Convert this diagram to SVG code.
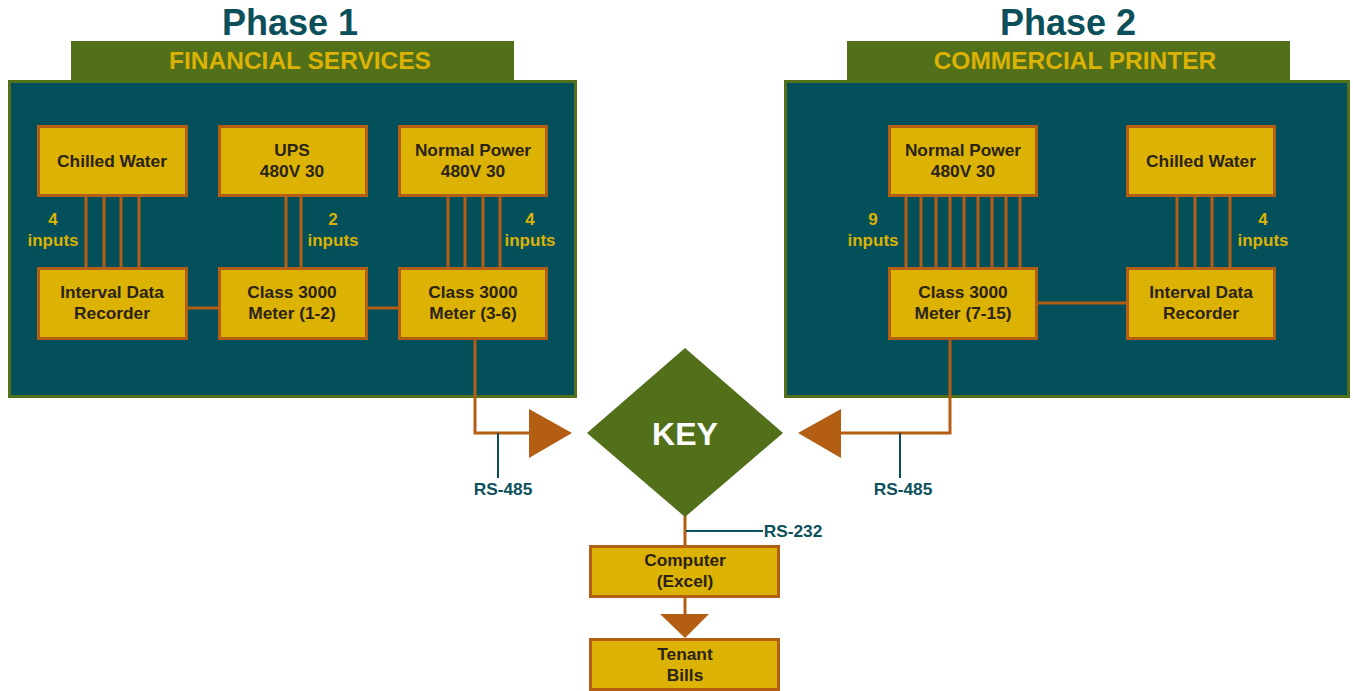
<svg xmlns="http://www.w3.org/2000/svg" width="1353" height="691" viewBox="0 0 1353 691">
<style>
.panel{fill:#034f5a;stroke:#52701a;stroke-width:3}
.tab{fill:#52701a}
.box{fill:#dcb204;stroke:#b45e14;stroke-width:3}
.w{stroke:#b45e14;stroke-width:3;fill:none}
.lead{stroke:#0b4f5b;stroke-width:2;fill:none}
.arr{fill:#b45e14}
text{font-family:"Liberation Sans",Arial,sans-serif;font-weight:bold;text-anchor:middle}
.bt{font-size:17.3px;fill:#2a2316}
.inp{font-size:17px;fill:#dcb204}
.title{font-size:36px;fill:#0b4f5b}
.hdr{font-size:24.5px;fill:#dcb204}
.rs{font-size:17.3px;fill:#0b4f5b}
.key{font-size:32px;fill:#ffffff}
</style>
<rect width="1353" height="691" fill="#ffffff"/>

<g id="phase1-panel">
<text class="title" x="290" y="35">Phase 1</text>
<rect class="tab" x="71" y="41" width="443" height="40"/>
<text class="hdr" x="300" y="69">FINANCIAL SERVICES</text>
<rect class="panel" x="9.5" y="81.5" width="566" height="315"/>
</g>
<g id="phase2-panel">
<text class="title" x="1068" y="35">Phase 2</text>
<rect class="tab" x="847" y="41" width="443" height="40"/>
<text class="hdr" x="1075" y="69">COMMERCIAL PRINTER</text>
<rect class="panel" x="785.5" y="81.5" width="563" height="315"/>
</g>

<g id="connectors">
<path class="w" d="M86 196V268M104 196V268M121 196V268M139 196V268"/>
<path class="w" d="M286 196V268M301 196V268"/>
<path class="w" d="M448 196V268M465 196V268M483 196V268M500 196V268"/>
<path class="w" d="M187 308H219M367 308H399"/>
<path class="w" d="M475 339V433H530"/>
<path class="w" d="M906 196V268M921 196V268M936 196V268M950 196V268M964 196V268M978 196V268M992 196V268M1006 196V268M1020 196V268"/>
<path class="w" d="M1177 196V268M1195 196V268M1212 196V268M1230 196V268"/>
<path class="w" d="M1037 303H1127"/>
<path class="w" d="M950 339V433H840"/>
<path class="w" d="M685 516V546M685 597V615"/>
<polygon class="arr" points="529,409 572,433 529,458"/>
<polygon class="arr" points="841,409 798,433 841,458"/>
<polygon class="arr" points="660,614 709,614 685,638"/>
<path class="lead" d="M498 433V478M900 433V478M686 531H763"/>
<text class="inp" x="53" y="225">4</text>
<text class="inp" x="53" y="246">inputs</text>
<text class="inp" x="333" y="225">2</text>
<text class="inp" x="333" y="246">inputs</text>
<text class="inp" x="530" y="225">4</text>
<text class="inp" x="530" y="246">inputs</text>
<text class="inp" x="873" y="225">9</text>
<text class="inp" x="873" y="246">inputs</text>
<text class="inp" x="1263" y="225">4</text>
<text class="inp" x="1263" y="246">inputs</text>
<text class="rs" x="503" y="495">RS-485</text>
<text class="rs" x="903" y="495">RS-485</text>
<text class="rs" x="793" y="537">RS-232</text>
</g>

<g id="p1-chilled-water"><rect class="box" x="38.5" y="126.5" width="148" height="69"/><text class="bt" x="112" y="167">Chilled Water</text></g>
<g id="p1-ups"><rect class="box" x="219.5" y="126.5" width="147" height="69"/><text class="bt" x="292" y="156">UPS</text><text class="bt" x="292" y="177">480V 30</text></g>
<g id="p1-normal-power"><rect class="box" x="399.5" y="126.5" width="147" height="69"/><text class="bt" x="473" y="156">Normal Power</text><text class="bt" x="473" y="177">480V 30</text></g>
<g id="p1-idr"><rect class="box" x="38.5" y="268.5" width="148" height="70"/><text class="bt" x="112" y="298">Interval Data</text><text class="bt" x="112" y="319">Recorder</text></g>
<g id="p1-meter-1-2"><rect class="box" x="219.5" y="268.5" width="147" height="70"/><text class="bt" x="292" y="298">Class 3000</text><text class="bt" x="292" y="319">Meter (1-2)</text></g>
<g id="p1-meter-3-6"><rect class="box" x="399.5" y="268.5" width="147" height="70"/><text class="bt" x="473" y="298">Class 3000</text><text class="bt" x="473" y="319">Meter (3-6)</text></g>

<g id="p2-normal-power"><rect class="box" x="889.5" y="126.5" width="147" height="69"/><text class="bt" x="963" y="156">Normal Power</text><text class="bt" x="963" y="177">480V 30</text></g>
<g id="p2-chilled-water"><rect class="box" x="1127.5" y="126.5" width="147" height="69"/><text class="bt" x="1201" y="167">Chilled Water</text></g>
<g id="p2-meter-7-15"><rect class="box" x="889.5" y="268.5" width="147" height="70"/><text class="bt" x="963" y="298">Class 3000</text><text class="bt" x="963" y="319">Meter (7-15)</text></g>
<g id="p2-idr"><rect class="box" x="1127.5" y="268.5" width="147" height="70"/><text class="bt" x="1201" y="298">Interval Data</text><text class="bt" x="1201" y="319">Recorder</text></g>

<g id="key"><polygon fill="#52701a" points="685,348 783,433 685,517 587,433"/><text class="key" x="685" y="445">KEY</text></g>
<g id="computer"><rect class="box" x="590.5" y="546.5" width="188" height="50"/><text class="bt" x="685" y="566">Computer</text><text class="bt" x="685" y="587">(Excel)</text></g>
<g id="tenant-bills"><rect class="box" x="590.5" y="639.5" width="188" height="50"/><text class="bt" x="685" y="660">Tenant</text><text class="bt" x="685" y="681">Bills</text></g>
</svg>
